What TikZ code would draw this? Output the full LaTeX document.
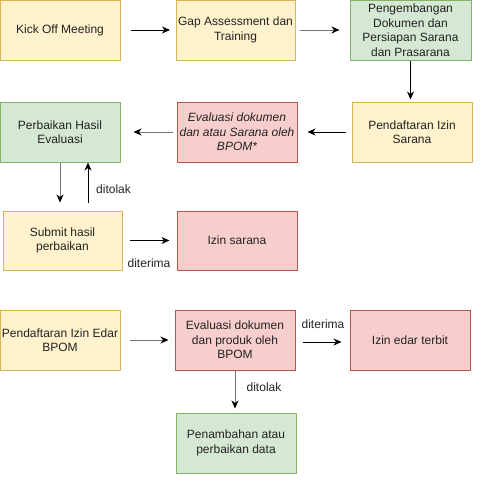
\documentclass[tikz,border=0pt]{standalone}
\usepackage{fontspec}
\setmainfont{Liberation Sans}
\usetikzlibrary{arrows.meta}
\definecolor{yfill}{HTML}{FFF2CC}\definecolor{ydraw}{HTML}{D6B656}
\definecolor{gfill}{HTML}{D5E8D4}\definecolor{gdraw}{HTML}{82B366}
\definecolor{rfill}{HTML}{F8CECC}\definecolor{rdraw}{HTML}{B85450}
\definecolor{txt}{HTML}{222222}
\begin{document}
\begin{tikzpicture}[x=1pt,y=-1pt,
  box/.style={draw, line width=1pt, minimum width=120pt, minimum height=60pt, align=center,
    inner sep=0pt, text=txt, font=\fontsize{12}{14.5}\selectfont},
  ybox/.style={box, fill=yfill, draw=ydraw},
  gbox/.style={box, fill=gfill, draw=gdraw},
  rbox/.style={box, fill=rfill, draw=rdraw},
  arr/.style={line width=1pt, -{Stealth[length=8pt,width=7pt,inset=2.5pt,black]}},
  garr/.style={arr, draw=black!55},
  lbl/.style={text=txt, font=\fontsize{12}{14}\selectfont, inner sep=0pt}]
\useasboundingbox (0,0) rectangle (493,493);
\node[ybox] (kick) at (60,30) {Kick Off Meeting};
\node[ybox, minimum width=119pt] (gap) at (235.5,30) {Gap Assessment dan\\Training};
\node[gbox, minimum width=121pt] (peng) at (410.5,30) {Pengembangan\\Dokumen dan\\Persiapan Sarana\\dan Prasarana};
\node[ybox] (pis) at (412,132) {Pendaftaran Izin\\Sarana};
\node[rbox] (evs) at (237,132) {\itshape Evaluasi dokumen\\\itshape dan atau Sarana oleh\\\itshape BPOM*};
\node[gbox] (perb) at (60,132) {Perbaikan Hasil\\Evaluasi};
\node[ybox, minimum width=119pt, minimum height=59pt] (sub) at (62.5,240.5) {Submit hasil\\perbaikan};
\node[rbox, minimum height=59pt] (izs) at (237,240.5) {Izin sarana};
\node[ybox] (pie) at (60,340) {Pendaftaran Izin Edar\\BPOM};
\node[rbox] (evp) at (235,340) {Evaluasi dokumen\\dan produk oleh\\BPOM};
\node[rbox] (ize) at (410,340) {Izin edar terbit};
\node[gbox] (pen) at (236,443) {Penambahan atau\\perbaikan data};

\draw[arr, shorten <=10pt, shorten >=5.5pt] (kick) -- (gap);
\draw[garr, shorten <=4.5pt, shorten >=10pt] (gap) -- (peng);
\draw[arr, shorten >=2pt] (peng.south) -- (peng.south |- pis.north);
\draw[arr, shorten <=6pt, shorten >=10pt] (pis) -- (evs);
\draw[garr, shorten <=4pt, shorten >=13pt] (evs) -- (perb);
\draw[garr, shorten >=8pt] (perb.south) -- (perb.south |- sub.north);
\coordinate (upst) at ([xshift=25.5pt]sub.north);
\draw[arr, shorten <=8pt] (upst) -- (upst |- perb.south);
\node[lbl, anchor=west] (l1) at (96,189) {ditolak};
\draw[arr, shorten <=7.5pt, shorten >=7pt] (sub) -- (izs);
\node[lbl] (l2) at (149,263) {diterima};
\draw[garr, shorten <=9pt, shorten >=6pt] (pie) -- (evp);
\draw[arr, shorten <=7pt, shorten >=8pt] ([yshift=-2pt]evp.east) -- ([yshift=-2pt]ize.west);
\node[lbl] (l3) at (323,324) {diterima};
\draw[garr, shorten >=4pt] (evp.south) -- (evp.south |- pen.north);
\node[lbl] (l4) at (264,387) {ditolak};
\end{tikzpicture}
\end{document}
